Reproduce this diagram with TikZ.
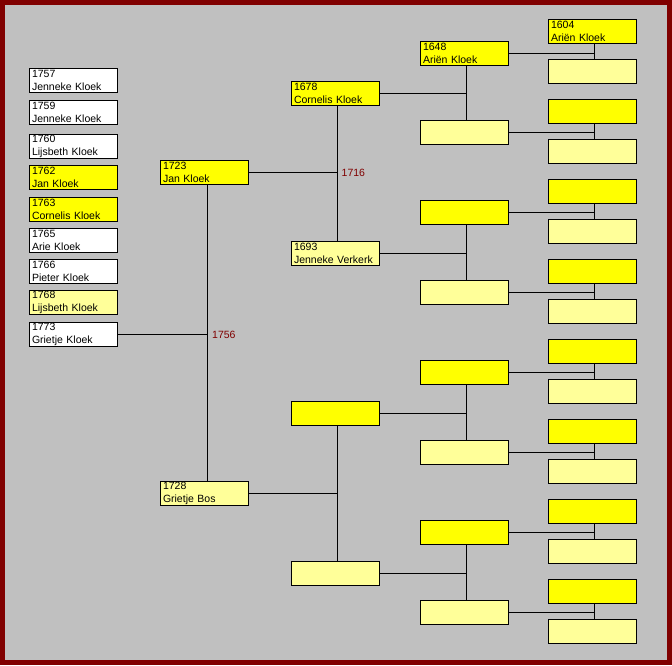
\documentclass[tikz,border=0pt]{standalone}
\usepackage{fontspec}
\setmainfont{Liberation Sans}
\definecolor{yel}{HTML}{FFFF00}
\definecolor{lyel}{HTML}{FFFF99}
\definecolor{bgray}{HTML}{C0C0C0}
\definecolor{framered}{HTML}{800000}
\definecolor{wedred}{HTML}{800000}
\begin{document}
\begin{tikzpicture}[x=1pt,y=-1pt,
  box/.style={draw=black,line width=1pt,anchor=north west,minimum width=88pt,minimum height=24pt,
    inner xsep=2.5pt,inner ysep=0pt,text width=83pt,align=left,outer sep=0pt,
    font=\fontsize{10.5}{12.5}\selectfont},
  yb/.style={box,fill=yel},
  lb/.style={box,fill=lyel},
  wb/.style={box,fill=white},
  conn/.style={draw=black,line width=1pt},
  wedding/.style={anchor=west,inner sep=0pt,text=wedred,font=\fontsize{10.5}{12}\selectfont}]
\fill[framered] (0,0) rectangle (672,665);
\fill[bgray] (5,5) rectangle (667,660);
\useasboundingbox (0,0) rectangle (672,665);

% children
\node[wb] (c1) at (29.5,68.5) {1757\\Jenneke Kloek};
\node[wb] (c2) at (29.5,100.5) {1759\\Jenneke Kloek};
\node[wb] (c3) at (29.5,134.5) {1760\\Lijsbeth Kloek};
\node[yb] (c4) at (29.5,165.5) {1762\\Jan Kloek};
\node[yb] (c5) at (29.5,197.5) {1763\\Cornelis Kloek};
\node[wb] (c6) at (29.5,228.5) {1765\\Arie Kloek};
\node[wb] (c7) at (29.5,259.5) {1766\\Pieter Kloek};
\node[lb] (c8) at (29.5,290.5) {1768\\Lijsbeth Kloek};
\node[wb] (c9) at (29.5,322.5) {1773\\Grietje Kloek};

% generation 1
\node[yb] (g1-0) at (160.5,160.5) {1723\\Jan Kloek};
\node[lb] (g1-1) at (160.5,481.5) {1728\\Grietje Bos};

% generation 2
\node[yb] (g2-0) at (291.5,81.5) {1678\\Cornelis Kloek};
\node[lb] (g2-1) at (291.5,241.5) {1693\\Jenneke Verkerk};
\node[yb] (g2-2) at (291.5,401.5) {};
\node[lb] (g2-3) at (291.5,561.5) {};

% generation 3
\node[yb] (g3-0) at (420.5,41.5) {1648\\Ariën Kloek};
\foreach \k in {1,...,7}{
  \pgfmathsetmacro\tp{40.5+80*\k}
  \ifodd\k\relax
    \node[lb] (g3-\k) at (420.5,\tp) {};
  \else
    \node[yb] (g3-\k) at (420.5,\tp) {};
  \fi
}

% generation 4
\node[yb] (g4-0) at (548.5,19.5) {1604\\Ariën Kloek};
\foreach \k in {1,...,15}{
  \pgfmathsetmacro\tp{19.5+40*\k}
  \ifodd\k\relax
    \node[lb] (g4-\k) at (548.5,\tp) {};
  \else
    \node[yb] (g4-\k) at (548.5,\tp) {};
  \fi
}

% connectors gen1
\coordinate (v1) at ([xshift=3pt]g1-0.south);
\draw[conn] (v1) -- ([xshift=3pt]g1-1.north);
\coordinate (j1) at (c9.east -| v1);
\draw[conn] (c9.east) -- (j1);
\node[wedding] (w1756) at ([xshift=4.5pt]j1) {1756};

% connectors gen2
\foreach \j in {0,1}{
  \pgfmathtruncatemacro\a{2*\j}
  \pgfmathtruncatemacro\b{2*\j+1}
  \coordinate (v2-\j) at ([xshift=2pt]g2-\a.south);
  \draw[conn] (v2-\j) -- ([xshift=2pt]g2-\b.north);
  \coordinate (j2-\j) at (g1-\j.east -| v2-\j);
  \draw[conn] (g1-\j.east) -- (j2-\j);
}
\node[wedding] (w1716) at ([xshift=4pt]j2-0) {1716};

% connectors gen3
\foreach \j in {0,...,3}{
  \pgfmathtruncatemacro\a{2*\j}
  \pgfmathtruncatemacro\b{2*\j+1}
  \coordinate (v3-\j) at ([xshift=2pt]g3-\a.south);
  \draw[conn] (v3-\j) -- ([xshift=2pt]g3-\b.north);
  \draw[conn] (g2-\j.east) -- (g2-\j.east -| v3-\j);
}

% connectors gen4
\foreach \j in {0,...,7}{
  \pgfmathtruncatemacro\a{2*\j}
  \pgfmathtruncatemacro\b{2*\j+1}
  \coordinate (v4-\j) at ([xshift=2pt]g4-\a.south);
  \draw[conn] (v4-\j) -- ([xshift=2pt]g4-\b.north);
  \draw[conn] (g3-\j.east) -- (g3-\j.east -| v4-\j);
}
\end{tikzpicture}
\end{document}
